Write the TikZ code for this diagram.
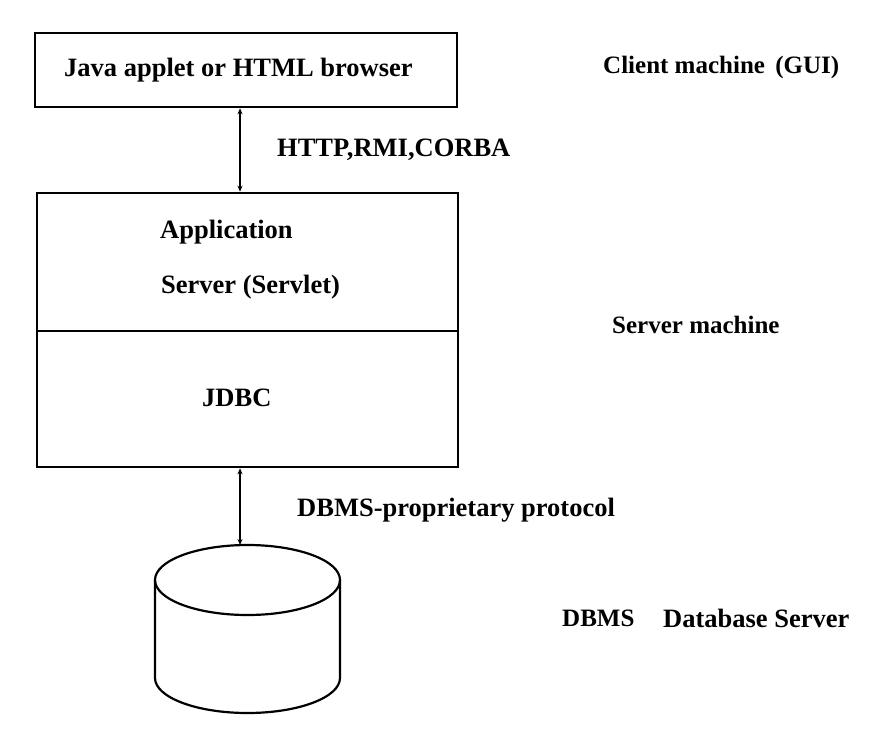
\documentclass[tikz,border=0pt]{standalone}
\usepackage{fontspec}
\setmainfont{Liberation Serif}
\usetikzlibrary{arrows.meta}
\begin{document}
\begin{tikzpicture}[x=1pt,y=-1pt,
  boxst/.style={draw=black, line width=2.6pt, inner sep=0pt},
  lbl/.style={font=\bfseries\fontsize{26.5}{28}\selectfont, inner sep=0pt, anchor=west},
  lblsm/.style={font=\bfseries\fontsize{25}{27}\selectfont, inner sep=0pt, anchor=west},
  arr/.style={line width=1.8pt, {Stealth[length=6pt,width=5pt]}-{Stealth[length=6pt,width=5pt]}},
  cyl/.style={line width=2.2pt}]
\useasboundingbox (0,0) rectangle (880,738);
% boxes
\node[boxst, minimum width=422pt, minimum height=74pt] (browser) at (246,70) {};
\node[boxst, minimum width=421pt, minimum height=138pt] (appsrv) at (247.5,262) {};
\node[boxst, minimum width=421pt, minimum height=136pt] (jdbc) at (247.5,399) {};
% texts in boxes
\node[lbl, font=\bfseries\fontsize{26.5}{28}\selectfont] (tbrowser) at (64,70) {Java applet or HTML browser};
\node[lbl] (tapp) at (160,232) {Application};
\node[lbl] (tserv) at (161,287) {Server (Servlet)};
\node[lbl] (tjdbc) at (202,398) {JDBC};
% cylinder
\coordinate (cyltop) at (240,545);
\draw[cyl] (155,580) arc[start angle=180, end angle=-180, x radius=92.5, y radius=35];
\draw[cyl] (155,580) -- (155,678) arc[start angle=180, end angle=0, x radius=92.5, y radius=35] -- (340,580);
% connectors
\draw[arr] ([xshift=-6pt]browser.south) -- ([xshift=-7.5pt]appsrv.north);
\draw[arr] ([xshift=-7.5pt]jdbc.south) -- (cyltop);
% labels
\node[lbl] (thttp) at (277,150) {HTTP,RMI,CORBA};
\node[lbl] (tdbms) at (297,510) {DBMS-proprietary protocol};
\node[lblsm] (tclient) at (603,67) {Client machine\, (GUI)};
\node[lblsm] (tsrvm) at (612,325) {Server machine};
\node[lblsm] (tdb) at (562,618) {DBMS};
\node[lbl] (tdbs) at (663,618) {Database Server};
\end{tikzpicture}
\end{document}
